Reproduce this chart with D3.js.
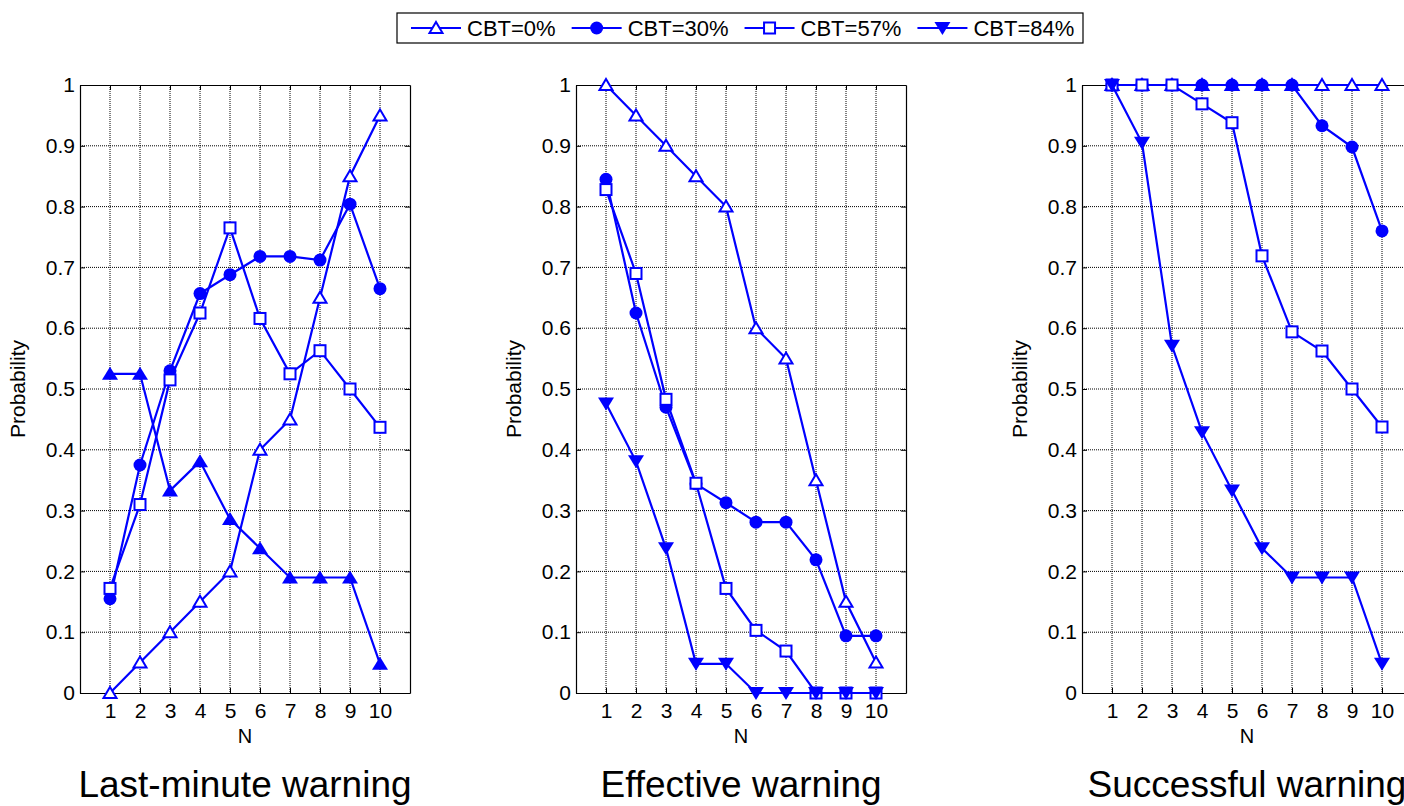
<!DOCTYPE html>
<html>
<head>
<meta charset="utf-8">
<script src="https://cdn.jsdelivr.net/npm/d3@7"></script>
<style>
  body { margin: 0; background: #fff; }
  svg { font-family: Arial, "Liberation Sans", sans-serif; }
  .grid line { stroke: #000; stroke-width: 1; stroke-dasharray: 1,1; }
</style>
</head>
<body>
<svg id="plot" width="1404" height="806"></svg>
<script>
// Data
const N = [1, 2, 3, 4, 5, 6, 7, 8, 9, 10];
const seriesNames = ['CBT=0%', 'CBT=30%', 'CBT=57%', 'CBT=84%'];
const panelTitles = ['Last-minute warning', 'Effective warning', 'Successful warning'];
const yTicks = [0, 0.1, 0.2, 0.3, 0.4, 0.5, 0.6, 0.7, 0.8, 0.9, 1];
const yTickLabels = ['0', '0.1', '0.2', '0.3', '0.4', '0.5', '0.6', '0.7', '0.8', '0.9', '1'];

const lastMinute0 = [0, 0.05, 0.10, 0.15, 0.20, 0.40, 0.45, 0.65, 0.85, 0.95];
const lastMinute30 = [0.155, 0.375, 0.53, 0.657, 0.688, 0.718, 0.718, 0.712, 0.804, 0.665];
const lastMinute57 = [0.172, 0.31, 0.515, 0.625, 0.765, 0.616, 0.525, 0.563, 0.50, 0.437];
const lastMinute84 = [0.525, 0.525, 0.333, 0.381, 0.286, 0.238, 0.19, 0.19, 0.19, 0.048];

const effective0 = [1.0, 0.95, 0.90, 0.85, 0.80, 0.60, 0.55, 0.35, 0.15, 0.05];
const effective30 = [0.845, 0.625, 0.47, 0.344, 0.313, 0.281, 0.281, 0.219, 0.094, 0.094];
const effective57 = [0.828, 0.69, 0.483, 0.345, 0.172, 0.103, 0.069, 0, 0, 0];
const effective84 = [0.476, 0.381, 0.238, 0.048, 0.048, 0, 0, 0, 0, 0];

const successful0 = [1, 1, 1, 1, 1, 1, 1, 1, 1, 1];
const successful30 = [1, 1, 1, 1, 1, 1, 1, 0.933, 0.898, 0.76];
const successful57 = [1, 1, 1, 0.969, 0.938, 0.719, 0.594, 0.5625, 0.50, 0.4375];
const successful84 = [1, 0.905, 0.571, 0.429, 0.333, 0.238, 0.19, 0.19, 0.19, 0.048];

// marker per series; the first panel draws the last series with up triangles
const legendMarkers = ['triUpOpen', 'circle', 'square', 'triDown'];
const panelMarkers = [
  ['triUpOpen', 'circle', 'square', 'triUp'],
  ['triUpOpen', 'circle', 'square', 'triDown'],
  ['triUpOpen', 'circle', 'square', 'triDown']
];
const panelData = [
  [lastMinute0, lastMinute30, lastMinute57, lastMinute84],
  [effective0, effective30, effective57, effective84],
  [successful0, successful30, successful57, successful84]
];

const blue = '#0000ff';
const svg = d3.select('#plot');
const panelLeft = [80, 576, 1082];
const panelWidth = 330;
const plotTop = 85, plotBottom = 693;

function drawMarker(g, kind, x, y) {
  if (kind === 'circle') {
    g.append('circle').attr('cx', x).attr('cy', y).attr('r', 6.5).style('fill', blue);
  } else if (kind === 'square') {
    g.append('rect').attr('x', x - 5.5).attr('y', y - 5.5).attr('width', 11).attr('height', 11)
      .style('fill', '#fff').style('stroke', blue).style('stroke-width', 2);
  } else if (kind === 'triUpOpen') {
    g.append('path').attr('d', `M${x},${y - 6}L${x + 6.5},${y + 5}L${x - 6.5},${y + 5}Z`)
      .style('fill', '#fff').style('stroke', blue).style('stroke-width', 2);
  } else if (kind === 'triUp') {
    g.append('path').attr('d', `M${x},${y - 7}L${x + 8},${y + 6}L${x - 8},${y + 6}Z`)
      .style('fill', blue);
  } else {
    g.append('path').attr('d', `M${x},${y + 7}L${x + 8},${y - 6}L${x - 8},${y - 6}Z`)
      .style('fill', blue);
  }
}

panelData.forEach((series, p) => {
  const x0 = panelLeft[p];
  const xScale = d3.scaleLinear().domain([0, 11]).range([x0, x0 + panelWidth]);
  const yScale = d3.scaleLinear().domain([0, 1]).range([plotBottom, plotTop]);
  const g = svg.append('g');

  // Grid
  const grid = g.append('g').attr('class', 'grid');
  grid.selectAll('.gx').data(N).enter().append('line')
    .attr('x1', d => xScale(d)).attr('x2', d => xScale(d))
    .attr('y1', plotTop).attr('y2', plotBottom);
  grid.selectAll('.gy').data(yTicks.slice(1, -1)).enter().append('line')
    .attr('y1', d => yScale(d)).attr('y2', d => yScale(d))
    .attr('x1', x0).attr('x2', x0 + panelWidth);

  // Axes (MATLAB style box with inward ticks)
  g.append('g').attr('transform', `translate(0,${plotBottom})`)
    .call(d3.axisBottom(xScale).tickValues(N).tickSize(-5).tickPadding(10).tickSizeOuter(0));
  g.append('g').attr('transform', `translate(0,${plotTop})`)
    .call(d3.axisTop(xScale).tickValues(N).tickSize(-5).tickFormat('').tickSizeOuter(0));
  g.append('g').attr('transform', `translate(${x0},0)`)
    .call(d3.axisLeft(yScale).tickValues(yTicks).tickSize(-5).tickPadding(5)
      .tickFormat((d, i) => yTickLabels[i]).tickSizeOuter(0));
  g.append('g').attr('transform', `translate(${x0 + panelWidth},0)`)
    .call(d3.axisRight(yScale).tickValues(yTicks).tickSize(-5).tickFormat('').tickSizeOuter(0));
  g.selectAll('.domain').style('stroke', '#000').style('stroke-width', 1.2);
  g.selectAll('.tick line').style('stroke', '#000');
  g.selectAll('.tick text').style('font-size', '21px').style('fill', '#000')
    .style('font-family', 'Arial, "Liberation Sans", sans-serif');

  // Series lines and markers
  const line = d3.line().x((d, i) => xScale(N[i])).y(d => yScale(d));
  series.forEach((vals, s) => {
    g.append('path').attr('d', line(vals))
      .style('fill', 'none').style('stroke', blue).style('stroke-width', 2.2);
    vals.forEach((v, i) => drawMarker(g, panelMarkers[p][s], xScale(N[i]), yScale(v)));
  });

  // Labels
  g.append('text').attr('x', (xScale(0) + xScale(11)) / 2).attr('y', 743)
    .attr('text-anchor', 'middle').style('font-size', '20px').text('N');
  g.append('text').attr('transform', `translate(${x0 - 55},${(plotTop + plotBottom) / 2}) rotate(-90)`)
    .attr('text-anchor', 'middle').style('font-size', '21px').text('Probability');
  g.append('text').attr('x', (xScale(0) + xScale(11)) / 2).attr('y', 797)
    .attr('text-anchor', 'middle').style('font-size', '37px').text(panelTitles[p]);
});

// Legend
const legend = svg.append('g');
legend.append('rect').attr('x', 397).attr('y', 13).attr('width', 686).attr('height', 30)
  .style('fill', '#fff').style('stroke', '#000').style('stroke-width', 1.2);
let lx = 411;
seriesNames.forEach((name, s) => {
  legend.append('line').attr('x1', lx).attr('x2', lx + 50).attr('y1', 28).attr('y2', 28)
    .style('stroke', blue).style('stroke-width', 2);
  drawMarker(legend, legendMarkers[s], lx + 25, 28);
  const t = legend.append('text').attr('x', lx + 56).attr('y', 36)
    .style('font-size', '22px').text(name);
  lx += 56 + t.node().getComputedTextLength() + 16;
});
</script>
</body>
</html>
